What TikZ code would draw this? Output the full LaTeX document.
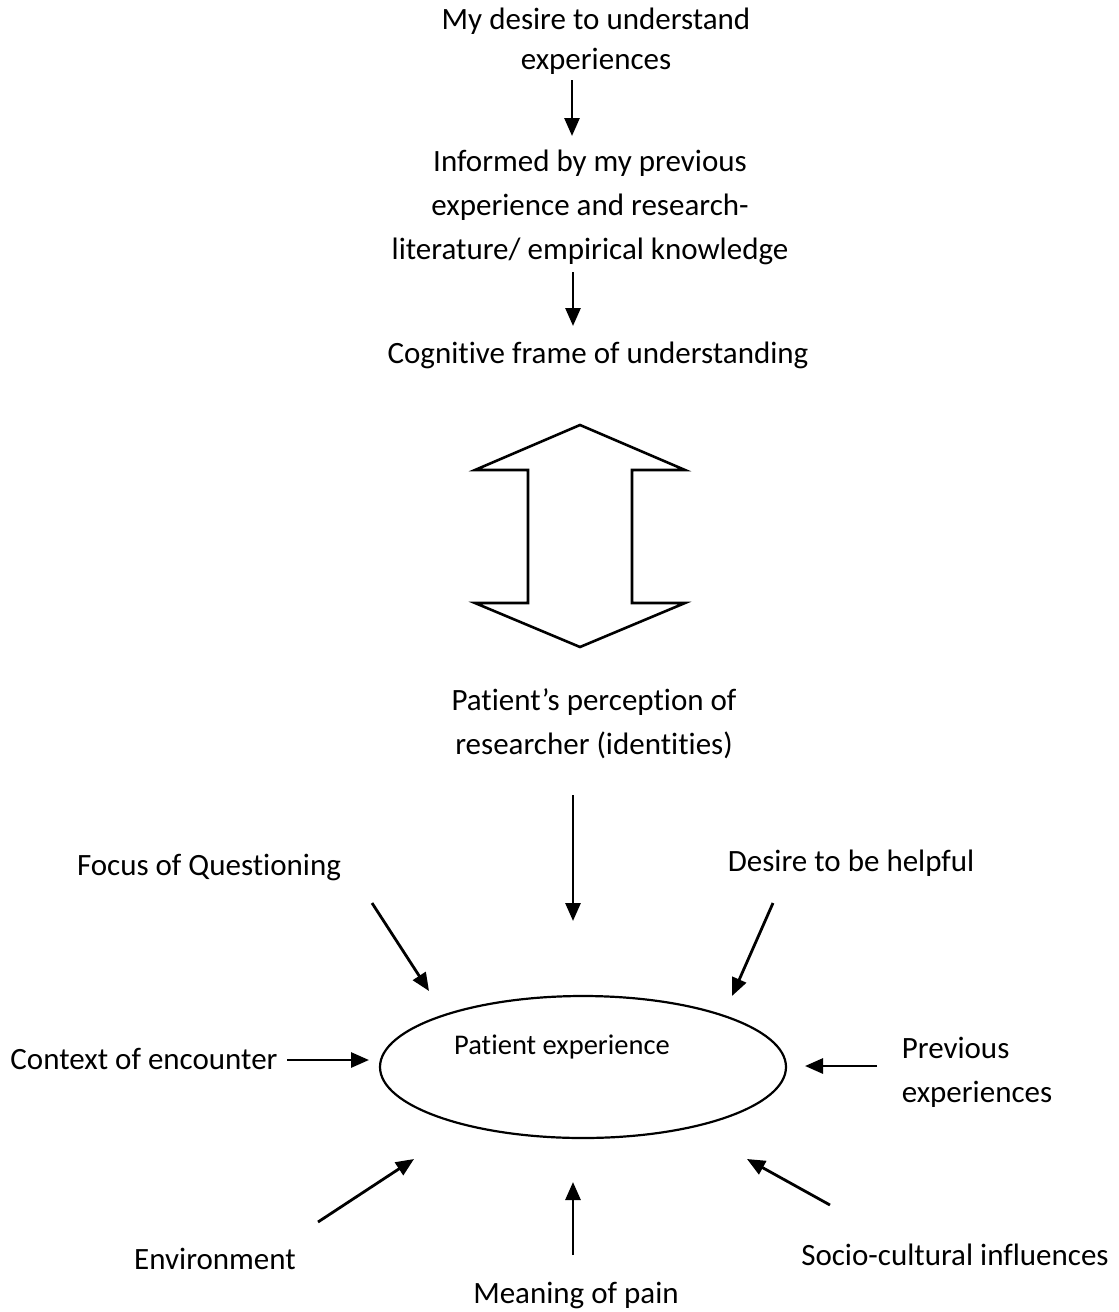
\documentclass[tikz,border=0pt]{standalone}
\usepackage{fontspec}
\setmainfont[Ligatures={NoCommon}]{Carlito}
\usetikzlibrary{arrows.meta}
\tikzset{
  lbl/.style={inner sep=0pt, align=center, font=\fontsize{31}{44}\selectfont},
  arr/.style={line width=2.8pt, -{Triangle[length=18pt,width=15pt]}},
}
\begin{document}
\begin{tikzpicture}[x=1pt, y=-1pt]
  \useasboundingbox (0,0) rectangle (1119,1312);
  % top chain
  \node[lbl, font=\fontsize{31}{40}\selectfont] (desire) at (596,41) {My desire to understand\\experiences};
  \node[lbl] (informed) at (590,207) {Informed by my previous\\experience and research-\\literature/ empirical knowledge};
  \node[lbl] (frame) at (598,355) {Cognitive frame of understanding};
  \coordinate (a1s) at (572,80);  \coordinate (a1e) at (572,136);
  \coordinate (a2s) at (573,272); \coordinate (a2e) at (573,326);
  \draw[arr] (a1s) -- (a1e);
  \draw[arr] (a2s) -- (a2e);
  % two-way block arrow
  \draw[line width=2.6pt, line join=miter]
    (580,425) -- (685,470) -- (632,470) -- (632,603) -- (685,603) -- (580,647)
    -- (475,603) -- (528,603) -- (528,470) -- (475,470) -- cycle;
  \node[lbl] (percep) at (594,724) {Patient's perception of\\researcher (identities)};
  % centre
  \draw[line width=2.2pt] (583,1067) ellipse [x radius=203, y radius=71];
  \coordinate (pe) at (583,1067);
  \node[lbl, font=\fontsize{28.5}{36}\selectfont] (pelbl) at (562,1047) {Patient experience};
  % influences
  \node[lbl] (focus) at (209,867) {Focus of Questioning};
  \node[lbl] (helpful) at (851,863) {Desire to be helpful};
  \node[lbl] (context) at (144,1059) {Context of encounter};
  \node[lbl, align=left] (previous) at (977,1072) {Previous\\experiences};
  \node[lbl] (environ) at (215,1259) {Environment};
  \node[lbl] (meaning) at (576,1295) {Meaning of pain};
  \node[lbl] (socio) at (955,1255) {Socio-cultural influences};
  \coordinate (b1s) at (573,795);  \coordinate (b1e) at (573,921);
  \coordinate (b2s) at (372,903);  \coordinate (b2e) at (429,991);
  \coordinate (b3s) at (773,903);  \coordinate (b3e) at (732,996);
  \coordinate (b4s) at (287,1060); \coordinate (b4e) at (369,1060);
  \coordinate (b5s) at (877,1066); \coordinate (b5e) at (805,1066);
  \coordinate (b6s) at (318,1222); \coordinate (b6e) at (414,1159);
  \coordinate (b7s) at (573,1255); \coordinate (b7e) at (573,1182);
  \coordinate (b8s) at (830,1205); \coordinate (b8e) at (747,1159);
  \foreach \s/\e in {b1s/b1e, b2s/b2e, b3s/b3e, b4s/b4e, b5s/b5e, b6s/b6e, b7s/b7e, b8s/b8e}
    \draw[arr] (\s) -- (\e);
\end{tikzpicture}
\end{document}
